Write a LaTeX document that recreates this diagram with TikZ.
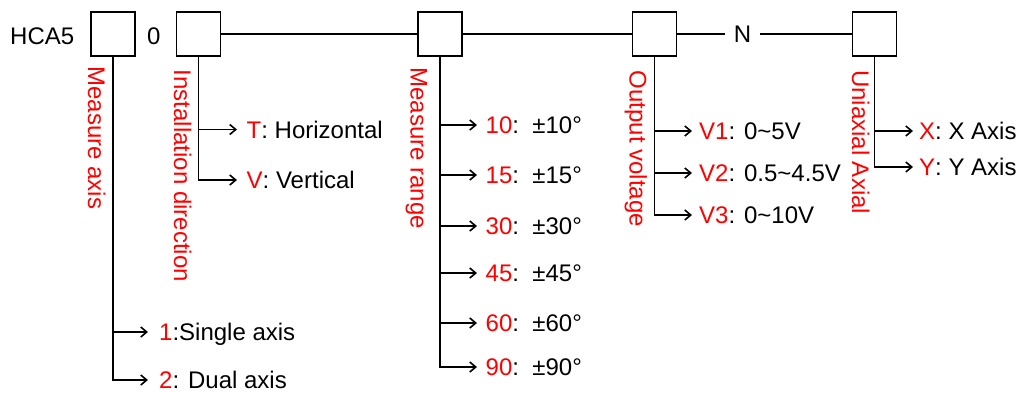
\documentclass[tikz,border=0pt]{standalone}
\usepackage{fontspec}
\setmainfont{Liberation Sans}
\usetikzlibrary{arrows.meta}
\newcommand\redtxt[1]{\textcolor{red}{#1}}
\newcommand\tld{\char`\~}
\begin{document}
\begin{tikzpicture}[x=1pt,y=-1pt,
  box/.style={draw, line width=1.8pt, minimum size=44pt, inner sep=0pt},
  conn/.style={line width=1.8pt},
  arr/.style={line width=1.6pt, -{Straight Barb[length=6pt,width=10pt]}},
  lab/.style={anchor=base west, inner sep=0pt, font=\fontsize{24}{28}\selectfont},
  vlab/.style={lab, rotate=-90, text=red},
]
\useasboundingbox (0,0) rectangle (1017,392);

% top row
\node[lab] (hca) at (10,44) {HCA5};
\node[box] (b1) at (112.7,34) {};
\node[lab] (zero) at (147,44) {0};
\node[box] (b2) at (198.5,34) {};
\node[box] (b3) at (440,34) {};
\node[box] (b4) at (654.5,34) {};
\node[font=\fontsize{24}{28}\selectfont, inner xsep=8.3pt, inner ysep=0pt] (N) at (742.5,34) {N};
\node[box] (b5) at (874.5,34) {};

\draw[conn] (b2.east) -- (b3.west);
\draw[conn] (b3.east) -- (b4.west);
\draw[conn] (b4.east) -- (N.west);
\draw[conn] (N.east) -- (b5.west);

% vertical labels
\node[vlab] (v1) at (88,66.3) {Measure axis};
\node[vlab] (v2) at (174,69.6) {Installation direction};
\node[vlab] (v3) at (410.6,67.3) {Measure range};
\node[vlab] (v4) at (629.7,70.5) {Output voltage};
\node[vlab] (v5) at (852.2,69.8) {Uniaxial Axial};

% column 1
\coordinate (a11) at (148,332);
\coordinate (a12) at (148,380);
\draw[arr] (b1.south) |- (a11);
\draw[arr] (b1.south) |- (a12);
\node[lab] (t11) at (159,340.6) {\redtxt{1}:Single axis};
\node[lab] (t12) at (159,388.6) {\redtxt{2}: Dual axis};

% column 2
\coordinate (a21) at (237,129.5);
\coordinate (a22) at (237,180);
\draw[arr] (b2.south) |- (a21);
\draw[arr] (b2.south) |- (a22);
\node[lab] (t21) at (246.5,138.1) {\redtxt{T}: Horizontal};
\node[lab] (t22) at (246.5,188.6) {\redtxt{V}: Vertical};

% column 3
\coordinate (a31) at (477,125);
\coordinate (a32) at (477,175);
\coordinate (a33) at (477,226);
\coordinate (a34) at (477,273);
\coordinate (a35) at (477,323);
\coordinate (a36) at (477,367);
\foreach \k in {1,...,6}{\draw[arr] (b3.south) |- (a3\k);}
\node[lab] (t31) at (485.5,133.6) {\redtxt{10}:\ \ ±10°};
\node[lab] (t32) at (485.5,183.6) {\redtxt{15}:\ \ ±15°};
\node[lab] (t33) at (485.5,234.6) {\redtxt{30}:\ \ ±30°};
\node[lab] (t34) at (485.5,281.6) {\redtxt{45}:\ \ ±45°};
\node[lab] (t35) at (485.5,331.6) {\redtxt{60}:\ \ ±60°};
\node[lab] (t36) at (485.5,375.6) {\redtxt{90}:\ \ ±90°};

% column 4
\coordinate (a41) at (692,131);
\coordinate (a42) at (692,173);
\coordinate (a43) at (692,215);
\draw[arr] (b4.south) |- (a41);
\draw[arr] (b4.south) |- (a42);
\draw[arr] (b4.south) |- (a43);
\node[lab] (t41) at (699,139.6) {\redtxt{V1}: 0\tld5V};
\node[lab] (t42) at (699,181.6) {\redtxt{V2}: 0.5\tld4.5V};
\node[lab] (t43) at (699,223.6) {\redtxt{V3}: 0\tld10V};

% column 5
\coordinate (a51) at (913,131);
\coordinate (a52) at (913,167);
\draw[arr] (b5.south) |- (a51);
\draw[arr] (b5.south) |- (a52);
\node[lab] (t51) at (919,139.6) {\redtxt{X}: X Axis};
\node[lab] (t52) at (919,175.6) {\redtxt{Y}: Y Axis};
\end{tikzpicture}
\end{document}
